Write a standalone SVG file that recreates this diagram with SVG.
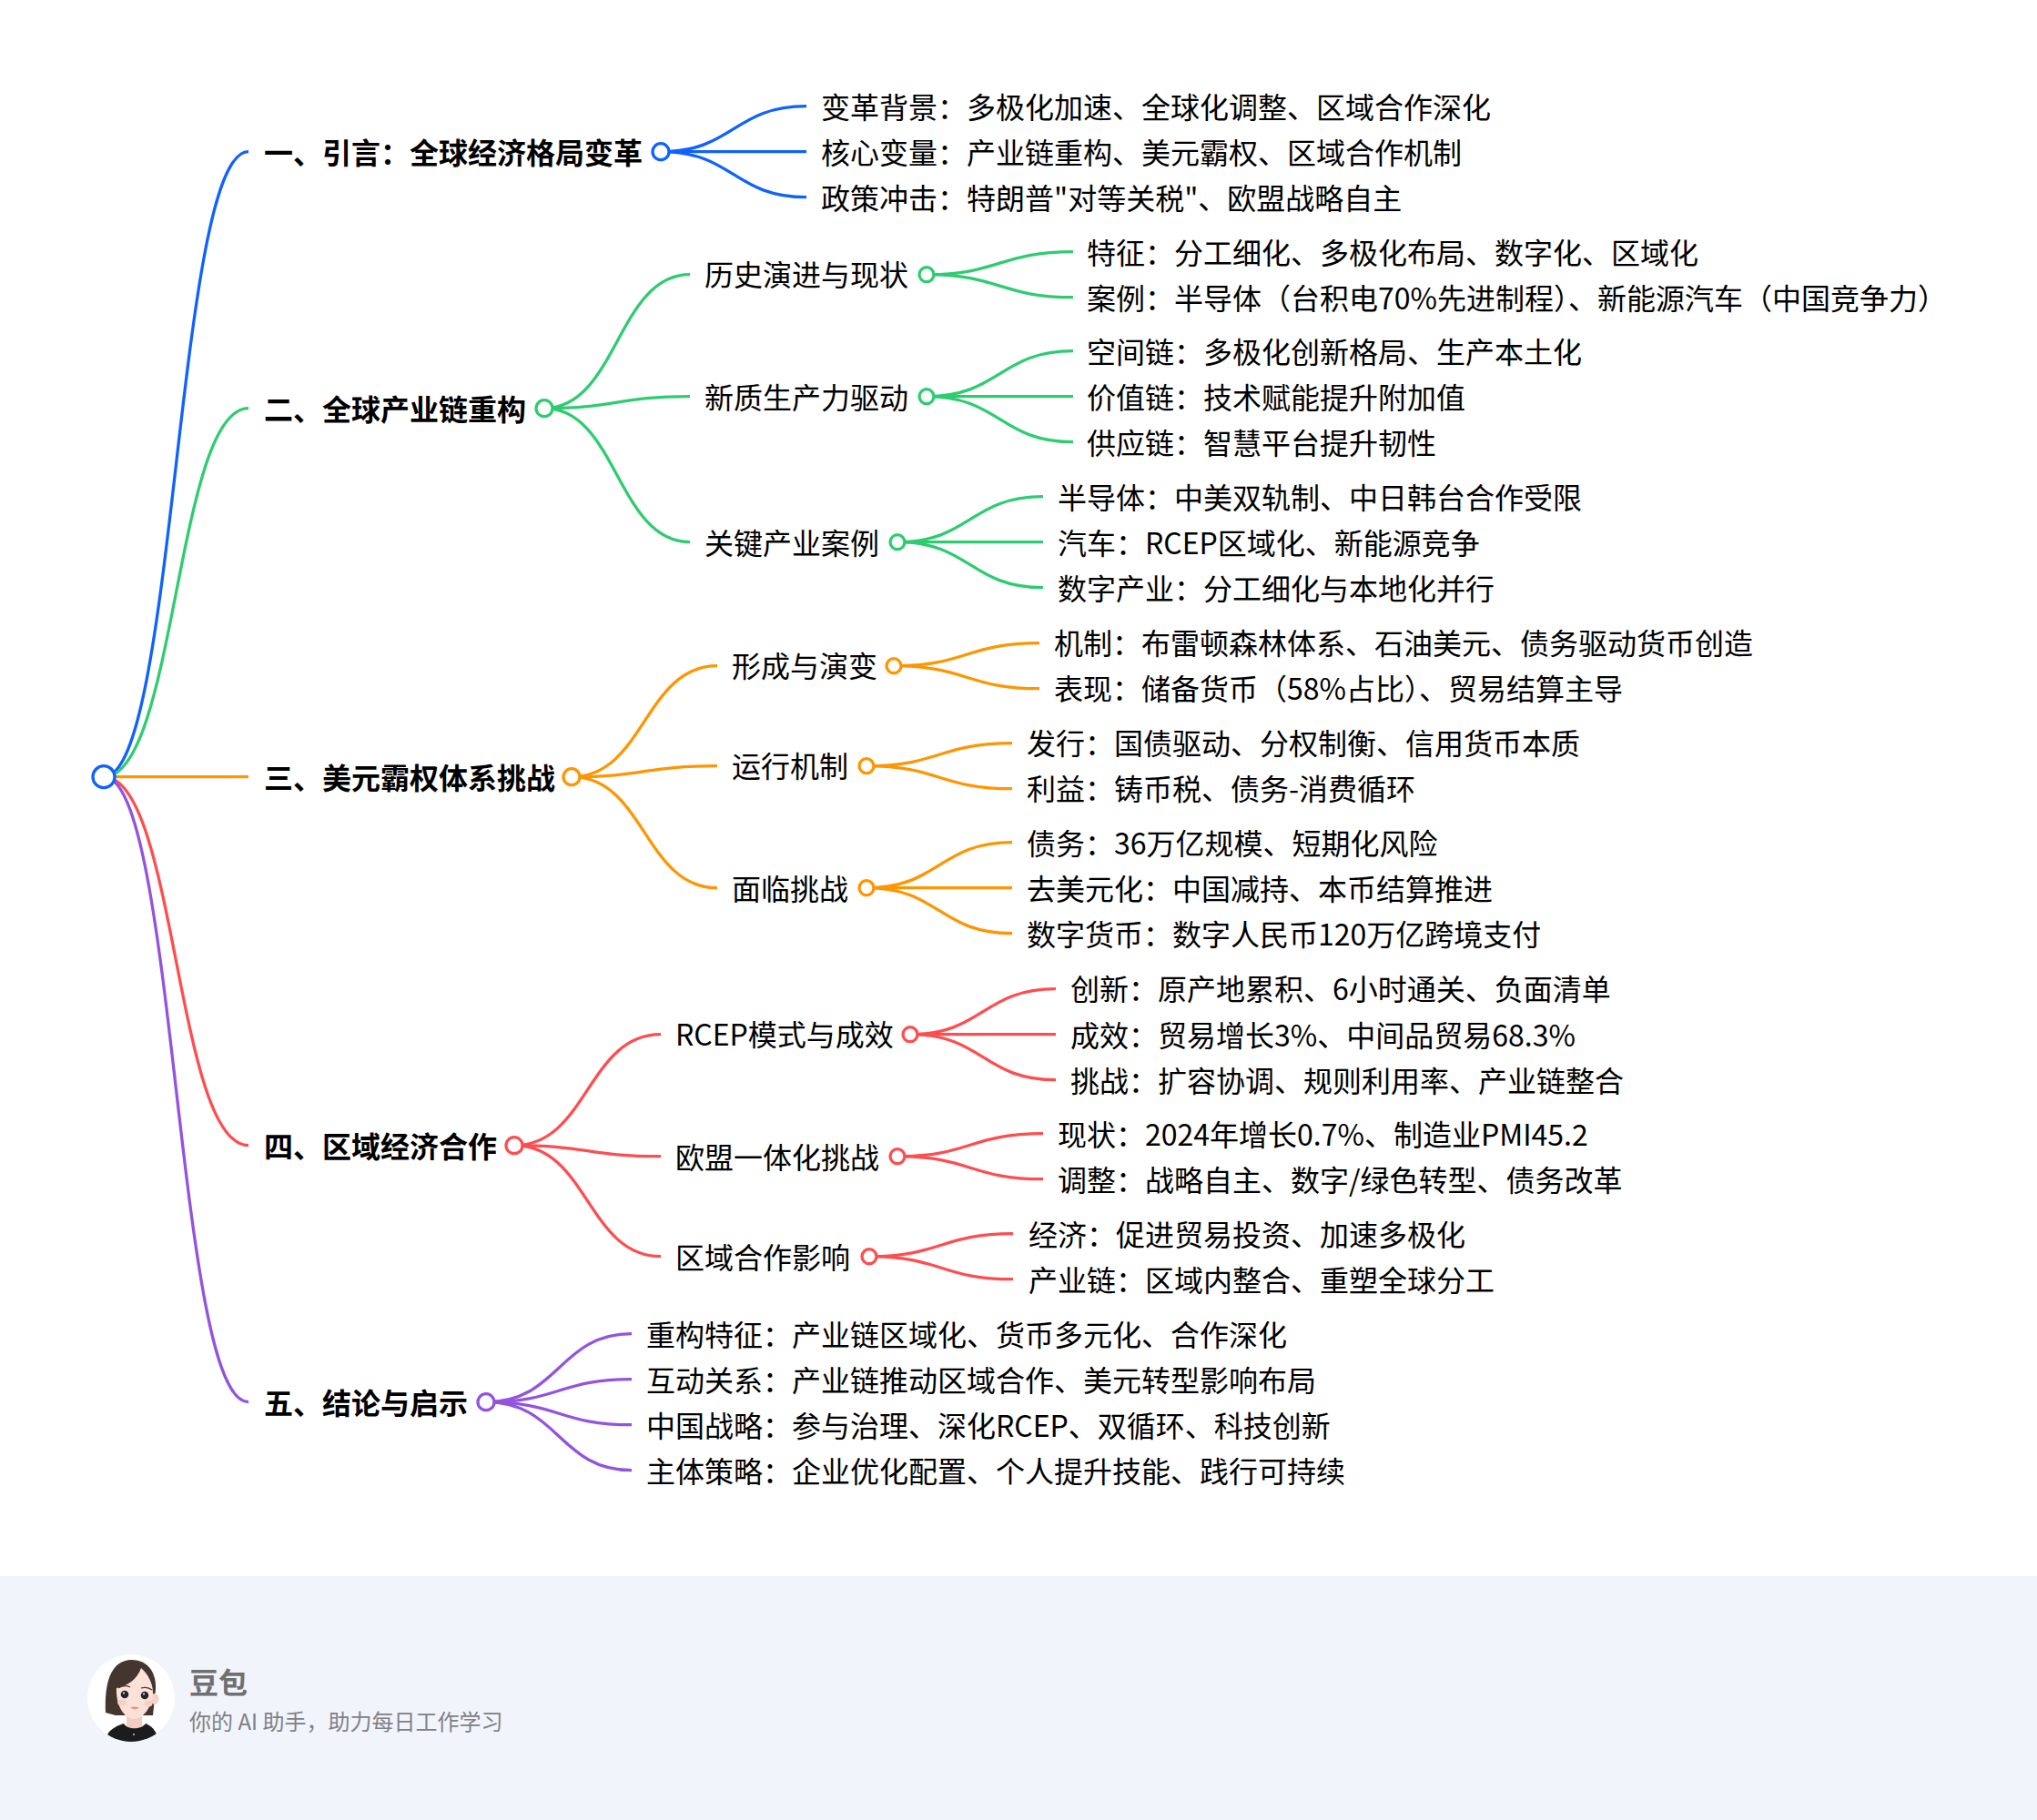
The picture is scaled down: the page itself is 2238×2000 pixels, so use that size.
<svg xmlns="http://www.w3.org/2000/svg" width="2238" height="2000" viewBox="0 0 2238 2000">
<style>
text{font-family:"Noto Sans CJK SC","Noto Sans",sans-serif;font-size:32px;fill:#000}
.b{font-weight:700}
.l{fill:none;stroke-width:3.300}
.n{fill:#fff;stroke-width:3.300}
.blue{stroke:#0f62fe}.green{stroke:#2ecc71}.orange{stroke:#ff9500}.red{stroke:#ff4d4f}.purple{stroke:#9254de}
</style>
<defs><clipPath id="av"><circle cx="144" cy="1866" r="48"/></clipPath></defs>
<rect id="footer-band" x="0" y="1732" width="2238" height="268" fill="#f1f4fb"/>
<g id="map" transform="translate(0 0.7)">
<g id="connectors">
<g>
<path class="l blue" d="M114 853C193.500 853 193.500 166 273 166"/>
<path class="l blue" d="M726 166C806 166 806 116 886 116"/>
<path class="l blue" d="M726 166H886"/>
<path class="l blue" d="M726 166C806 166 806 216 886 216"/>
</g>
<g>
<path class="l green" d="M114 853C193.500 853 193.500 448 273 448"/>
<path class="l green" d="M598 448C678 448 678 301 758 301"/>
<path class="l green" d="M598 448C678 448 678 435 758 435"/>
<path class="l green" d="M598 448C678 448 678 595 758 595"/>
<path class="l green" d="M1018 301C1098.500 301 1098.500 276 1179 276"/>
<path class="l green" d="M1018 301C1098.500 301 1098.500 326 1179 326"/>
<path class="l green" d="M1018 435C1098.500 435 1098.500 385 1179 385"/>
<path class="l green" d="M1018 435H1179"/>
<path class="l green" d="M1018 435C1098.500 435 1098.500 485 1179 485"/>
<path class="l green" d="M986 595C1066 595 1066 545 1146 545"/>
<path class="l green" d="M986 595H1146"/>
<path class="l green" d="M986 595C1066 595 1066 645 1146 645"/>
</g>
<g>
<path class="l orange" d="M114 853H273"/>
<path class="l orange" d="M628 853C708 853 708 731 788 731"/>
<path class="l orange" d="M628 853C708 853 708 841 788 841"/>
<path class="l orange" d="M628 853C708 853 708 975 788 975"/>
<path class="l orange" d="M982 731C1062 731 1062 706 1142 706"/>
<path class="l orange" d="M982 731C1062 731 1062 756 1142 756"/>
<path class="l orange" d="M952 841C1032 841 1032 816 1112 816"/>
<path class="l orange" d="M952 841C1032 841 1032 866 1112 866"/>
<path class="l orange" d="M952 975C1032 975 1032 925 1112 925"/>
<path class="l orange" d="M952 975H1112"/>
<path class="l orange" d="M952 975C1032 975 1032 1025 1112 1025"/>
</g>
<g>
<path class="l red" d="M114 853C193.500 853 193.500 1258 273 1258"/>
<path class="l red" d="M565 1258C645.500 1258 645.500 1136 726 1136"/>
<path class="l red" d="M565 1258C645.500 1258 645.500 1270 726 1270"/>
<path class="l red" d="M565 1258C645.500 1258 645.500 1380 726 1380"/>
<path class="l red" d="M1000 1136C1080 1136 1080 1086 1160 1086"/>
<path class="l red" d="M1000 1136H1160"/>
<path class="l red" d="M1000 1136C1080 1136 1080 1186 1160 1186"/>
<path class="l red" d="M986 1270C1066 1270 1066 1245 1146 1245"/>
<path class="l red" d="M986 1270C1066 1270 1066 1295 1146 1295"/>
<path class="l red" d="M955 1380C1034 1380 1034 1355 1113 1355"/>
<path class="l red" d="M955 1380C1034 1380 1034 1405 1113 1405"/>
</g>
<g>
<path class="l purple" d="M114 853C193.500 853 193.500 1540 273 1540"/>
<path class="l purple" d="M534 1540C614 1540 614 1465 694 1465"/>
<path class="l purple" d="M534 1540C614 1540 614 1515 694 1515"/>
<path class="l purple" d="M534 1540C614 1540 614 1565 694 1565"/>
<path class="l purple" d="M534 1540C614 1540 614 1615 694 1615"/>
</g>
</g>
<g id="root"><circle class="n blue" cx="114" cy="853" r="12"/></g>

<g id="s1"><text class="b" x="290" y="179">一、引言：全球经济格局变革</text><circle class="n blue" cx="726" cy="166" r="9"/></g>
<g id="s1-a"><text x="902" y="129.500">变革背景：多极化加速、全球化调整、区域合作深化</text></g>
<g id="s1-b"><text x="902" y="179.500">核心变量：产业链重构、美元霸权、区域合作机制</text></g>
<g id="s1-c"><text x="902" y="229.500">政策冲击：特朗普"对等关税"、欧盟战略自主</text></g>

<g id="s2"><text class="b" x="290" y="461.500">二、全球产业链重构</text><circle class="n green" cx="598" cy="448" r="9"/></g>
<g id="s2-1"><text x="774" y="313">历史演进与现状</text><circle class="n green" cx="1018" cy="301" r="8"/></g>
<g id="s2-1a"><text x="1194" y="289.500">特征：分工细化、多极化布局、数字化、区域化</text></g>
<g id="s2-1b"><text x="1194" y="339.500">案例：半导体（台积电70%先进制程）、新能源汽车（中国竞争力）</text></g>
<g id="s2-2"><text x="774" y="448.500">新质生产力驱动</text><circle class="n green" cx="1018" cy="435" r="8"/></g>
<g id="s2-2a"><text x="1194" y="398.500">空间链：多极化创新格局、生产本土化</text></g>
<g id="s2-2b"><text x="1194" y="448.500">价值链：技术赋能提升附加值</text></g>
<g id="s2-2c"><text x="1194" y="498.500">供应链：智慧平台提升韧性</text></g>
<g id="s2-3"><text x="774" y="608.500">关键产业案例</text><circle class="n green" cx="986" cy="595" r="8"/></g>
<g id="s2-3a"><text x="1162" y="558.500">半导体：中美双轨制、中日韩台合作受限</text></g>
<g id="s2-3b"><text x="1162" y="608.500">汽车：RCEP区域化、新能源竞争</text></g>
<g id="s2-3c"><text x="1162" y="658.500">数字产业：分工细化与本地化并行</text></g>

<g id="s3"><text class="b" x="290" y="866.500">三、美元霸权体系挑战</text><circle class="n orange" cx="628" cy="853" r="9"/></g>
<g id="s3-1"><text x="804" y="743">形成与演变</text><circle class="n orange" cx="982" cy="731" r="8"/></g>
<g id="s3-1a"><text x="1158" y="718.500">机制：布雷顿森林体系、石油美元、债务驱动货币创造</text></g>
<g id="s3-1b"><text x="1158" y="768.500">表现：储备货币（58%占比）、贸易结算主导</text></g>
<g id="s3-2"><text x="804" y="853">运行机制</text><circle class="n orange" cx="952" cy="841" r="8"/></g>
<g id="s3-2a"><text x="1128" y="828.500">发行：国债驱动、分权制衡、信用货币本质</text></g>
<g id="s3-2b"><text x="1128" y="878.500">利益：铸币税、债务-消费循环</text></g>
<g id="s3-3"><text x="804" y="988.500">面临挑战</text><circle class="n orange" cx="952" cy="975" r="8"/></g>
<g id="s3-3a"><text x="1128" y="938.500">债务：36万亿规模、短期化风险</text></g>
<g id="s3-3b"><text x="1128" y="988.500">去美元化：中国减持、本币结算推进</text></g>
<g id="s3-3c"><text x="1128" y="1038.500">数字货币：数字人民币120万亿跨境支付</text></g>

<g id="s4"><text class="b" x="290" y="1271.500">四、区域经济合作</text><circle class="n red" cx="565" cy="1258" r="9"/></g>
<g id="s4-1"><text x="742" y="1148.500">RCEP模式与成效</text><circle class="n red" cx="1000" cy="1136" r="8"/></g>
<g id="s4-1a"><text x="1176" y="1098.500">创新：原产地累积、6小时通关、负面清单</text></g>
<g id="s4-1b"><text x="1176" y="1149">成效：贸易增长3%、中间品贸易68.3%</text></g>
<g id="s4-1c"><text x="1176" y="1199">挑战：扩容协调、规则利用率、产业链整合</text></g>
<g id="s4-2"><text x="742" y="1283.500">欧盟一体化挑战</text><circle class="n red" cx="986" cy="1270" r="8"/></g>
<g id="s4-2a"><text x="1162" y="1258.500">现状：2024年增长0.7%、制造业PMI45.2</text></g>
<g id="s4-2b"><text x="1162" y="1308.500">调整：战略自主、数字/绿色转型、债务改革</text></g>
<g id="s4-3"><text x="742" y="1393.500">区域合作影响</text><circle class="n red" cx="955" cy="1380" r="8"/></g>
<g id="s4-3a"><text x="1130" y="1368.500">经济：促进贸易投资、加速多极化</text></g>
<g id="s4-3b"><text x="1130" y="1418.500">产业链：区域内整合、重塑全球分工</text></g>

<g id="s5"><text class="b" x="290" y="1553.500">五、结论与启示</text><circle class="n purple" cx="534" cy="1540" r="9"/></g>
<g id="s5-a"><text x="710" y="1478.500">重构特征：产业链区域化、货币多元化、合作深化</text></g>
<g id="s5-b"><text x="710" y="1528.500">互动关系：产业链推动区域合作、美元转型影响布局</text></g>
<g id="s5-c"><text x="710" y="1578.500">中国战略：参与治理、深化RCEP、双循环、科技创新</text></g>
<g id="s5-d"><text x="710" y="1628.500">主体策略：企业优化配置、个人提升技能、践行可持续</text></g>
</g>

<g id="footer">
<circle cx="144" cy="1866" r="48" fill="#fff"/>
<g clip-path="url(#av)">
<path d="M116 1882C115 1860 117 1826 143 1824C162 1823 172 1838 171 1856L168 1885H127Z" fill="#45352f"/>
<ellipse cx="170" cy="1867" rx="4.500" ry="6" fill="#f6d3c6"/>
<path d="M139 1884H156V1896C153 1902 142 1902 139 1896Z" fill="#f3cdc1"/>
<path d="M118 1906C122 1899 130 1896 136 1894C140 1901 155 1901 160 1894C165 1896 170 1900 172 1906C164 1912 155 1915 146 1915C136 1915 125 1912 118 1906Z" fill="#1c1c1e"/>
<circle cx="147" cy="1906" r="1.100" fill="#bbb"/>
<path d="M128 1855C140 1853 151 1845 155 1833C163 1840 168 1850 168 1860C168 1874 158 1889 147 1889C135 1888 127 1872 128 1855Z" fill="#fbe1d8"/>
<ellipse cx="134" cy="1871" rx="5" ry="3.500" fill="#f7cfc6"/><ellipse cx="163" cy="1872" rx="4.500" ry="3.500" fill="#f7cfc6"/>
<path d="M130 1855Q137 1851 143 1854M155 1855Q162 1853 167 1857" fill="none" stroke="#4a3832" stroke-width="1.200"/>
<ellipse cx="137" cy="1862" rx="6" ry="5" fill="#e8eaea"/><ellipse cx="159" cy="1863" rx="6" ry="5" fill="#e8eaea"/>
<circle cx="137" cy="1862" r="4.300" fill="#2e2321"/><circle cx="159" cy="1863" r="4.300" fill="#2e2321"/>
<circle cx="136" cy="1860.500" r="1" fill="#fff"/><circle cx="158" cy="1861.500" r="1" fill="#fff"/>
<path d="M143 1876.500Q148 1874.500 153 1876.500Q148 1880.500 143 1876.500Z" fill="#e29a8e"/>
</g>
<text class="b" x="208" y="1860.500" style="fill:#707070">豆包</text>
<text x="208" y="1900.500" style="font-size:24px;fill:#808086">你的 AI 助手，助力每日工作学习</text>
</g>
</svg>
